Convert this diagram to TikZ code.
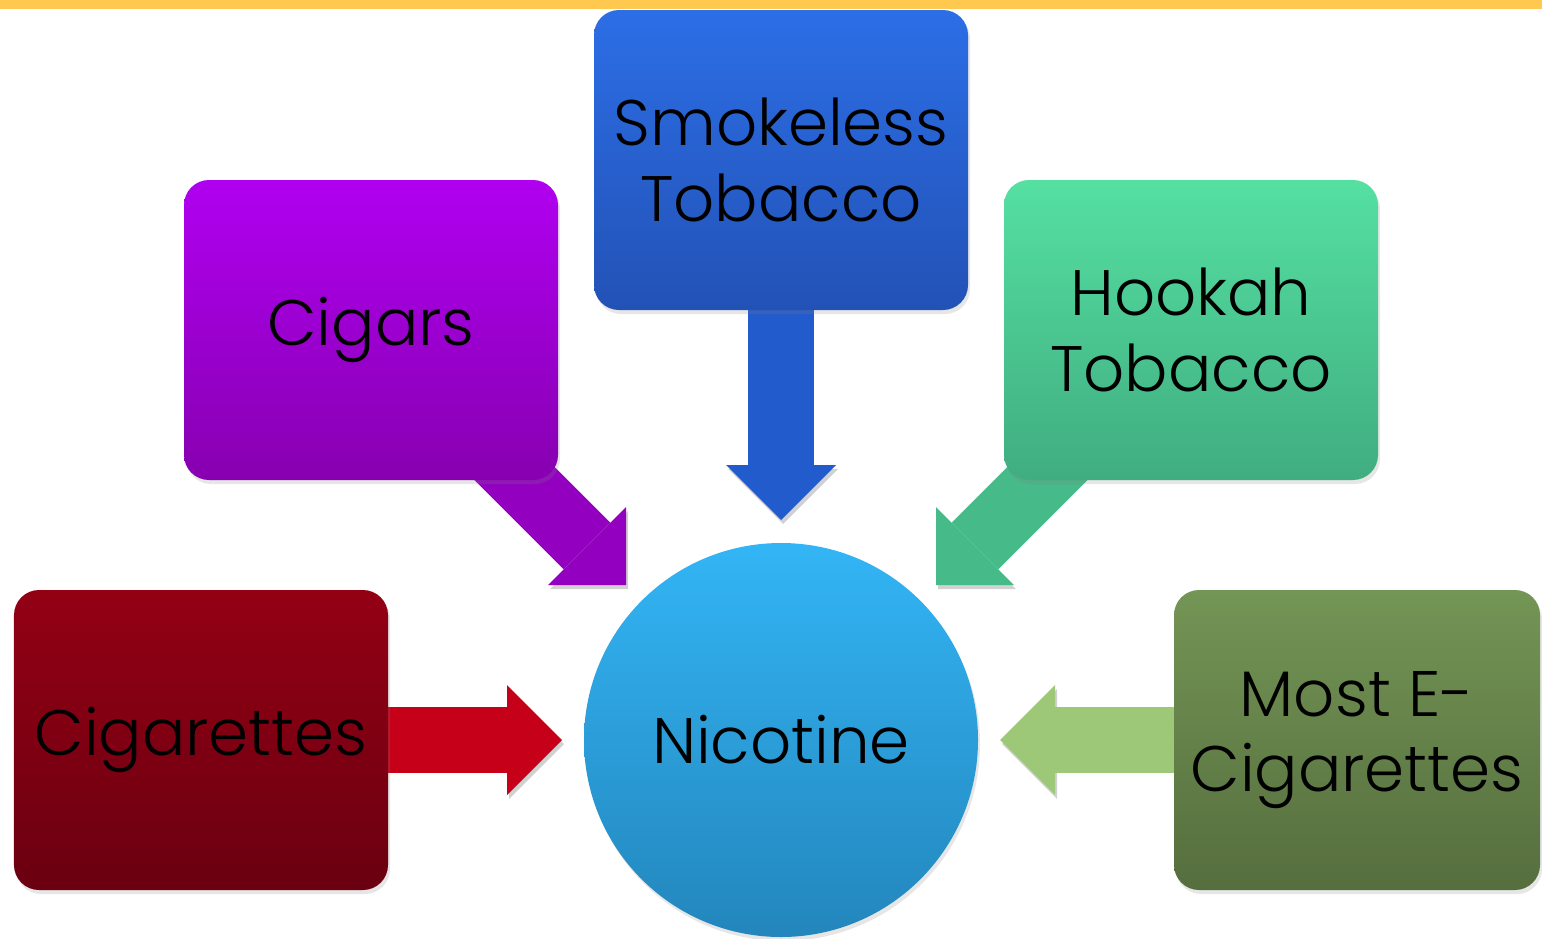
\documentclass[tikz,border=0pt]{standalone}
\usepackage{fontspec}
\IfFontExistsTF{Poppins Light}{\setmainfont{Poppins Light}}{\setmainfont{Poppins}}
\usetikzlibrary{arrows.meta,shadows,backgrounds}

\definecolor{barYellow}{HTML}{FFC94F}
\definecolor{smkTop}{HTML}{2C6EE6}
\definecolor{smkBot}{HTML}{2352B6}
\definecolor{cgrTop}{HTML}{B000F0}
\definecolor{cgrBot}{HTML}{8700B0}
\definecolor{hkTop}{HTML}{55E0A2}
\definecolor{hkBot}{HTML}{40AD80}
\definecolor{cigTop}{HTML}{930014}
\definecolor{cigBot}{HTML}{6A0010}
\definecolor{ecTop}{HTML}{739555}
\definecolor{ecBot}{HTML}{566E3E}
\definecolor{nicTop}{HTML}{33B5F5}
\definecolor{nicBot}{HTML}{2386BC}
\definecolor{arBlue}{HTML}{225BCC}
\definecolor{arPurple}{HTML}{9300C0}
\definecolor{arGreen}{HTML}{46BA88}
\definecolor{arRed}{HTML}{C70019}
\definecolor{arLight}{HTML}{9CC877}

\tikzset{
  box/.style={rounded corners=0.25cm, minimum width=3.74cm, minimum height=3cm,
    align=center, inner sep=0pt, font=\fontsize{18.3}{21.5}\selectfont,
    drop shadow={shadow xshift=0.02cm, shadow yshift=-0.04cm, opacity=0.2}},
  fat/.style={line width=0.66cm,
    -{Triangle[width=1.1cm,length=0.55cm,line width=0pt]},
    preaction={draw=black!18, transform canvas={shift={(0.02,-0.04)}}}},
}

\begin{document}
\begin{tikzpicture}
\useasboundingbox (0,0) rectangle (15.42,-9.38);

\node[box, top color=smkTop, bottom color=smkBot] (smk) at (7.81,-1.60) {Smokeless\\Tobacco};
\node[box, top color=cgrTop, bottom color=cgrBot] (cgr) at (3.71,-3.30) {Cigars};
\node[box, top color=hkTop, bottom color=hkBot] (hook) at (11.91,-3.30) {Hookah\\Tobacco};
\node[box, top color=cigTop, bottom color=cigBot] (cigt) at (2.01,-7.40) {Cigarettes};
\node[box, minimum width=3.66cm, top color=ecTop, bottom color=ecBot] (ecig) at (13.57,-7.40) {Most E-\\Cigarettes};

\node[circle, minimum size=3.94cm, inner sep=0pt, top color=nicTop, bottom color=nicBot,
  font=\fontsize{18.3}{21.5}\selectfont,
  drop shadow={shadow xshift=0.02cm, shadow yshift=-0.04cm, opacity=0.2}] (nic) at (7.81,-7.40) {Nicotine};

\coordinate (tsmk) at (7.81,-5.20);
\coordinate (tcgr) at (6.26,-5.85);
\coordinate (thook) at (9.36,-5.85);
\coordinate (tcigt) at (5.62,-7.40);
\coordinate (tecig) at (10.00,-7.40);

\begin{scope}[on background layer]
\fill[barYellow] (0,0) rectangle (15.42,-0.09);
\path[draw=arBlue, fat] (smk.center) -- (tsmk);
\path[draw=arPurple, fat] (cgr.center) -- (tcgr);
\path[draw=arGreen, fat] (hook.center) -- (thook);
\path[draw=arRed, fat] (cigt.center) -- (tcigt);
\path[draw=arLight, fat] (ecig.center) -- (tecig);
\end{scope}
\end{tikzpicture}
\end{document}
